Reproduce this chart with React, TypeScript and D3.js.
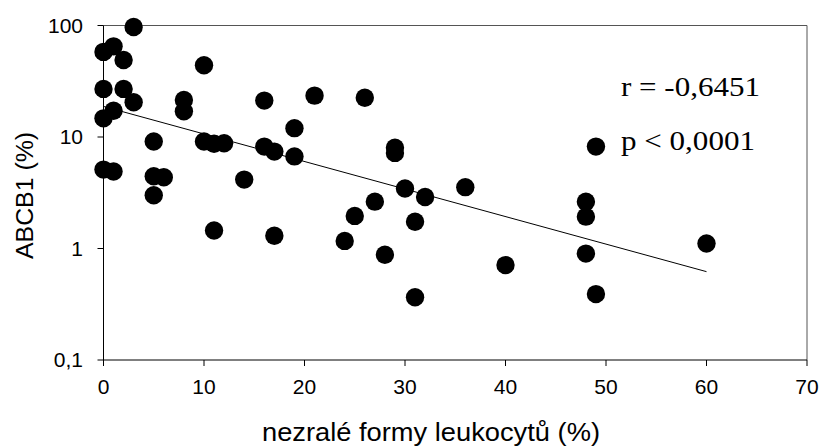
import React from "react";
import * as d3 from "d3";

const xValues = [3, 0, 1, 2, 0, 2, 3, 1, 0, 10, 8, 8, 5, 10, 11, 12, 16, 17, 19, 19, 16, 0, 1, 5, 6, 14, 5, 11, 17, 21, 26, 29, 29, 30, 32, 36, 27, 25, 24, 31, 28, 40, 31, 48, 48, 48, 49, 60, 49];
const yValues = [97, 58, 65, 49, 27, 27, 20.5, 17.2, 14.7, 44, 21.5, 17, 9.1, 9.1, 8.7, 8.8, 8.2, 7.4, 12, 6.7, 21.2, 5.1, 4.9, 4.45, 4.35, 4.15, 3.0, 1.45, 1.3, 23.5, 22.5, 8.0, 7.2, 3.45, 2.9, 3.55, 2.63, 1.96, 1.17, 1.74, 0.88, 0.71, 0.365, 2.63, 1.93, 0.9, 0.39, 1.11, 8.2];
const trendX = [0, 60];
const trendY = [18.8, 0.62];
const xTicks = [0, 10, 20, 30, 40, 50, 60, 70];
const yTicks = [0.1, 1, 10, 100];
const yTickLabels = ["0,1", "1", "10", "100"];
const statLines = ["r = -0,6451", "p < 0,0001"];
const xTitle = "nezralé formy leukocytů (%)";
const yTitle = "ABCB1 (%)";

export default function App() {
  const W = 823, H = 446;
  const left = 103.5, right = 807, top = 25.5, bottom = 360;
  const x = d3.scaleLinear().domain([0, 70]).range([left, right]);
  const y = d3.scaleLog().domain([0.1, 100]).range([bottom, top]);
  const line = d3.line<number>().x((d, i) => x(trendX[i])).y((d, i) => y(trendY[i]));
  const sans = "'Liberation Sans', Arial, sans-serif";
  const serif = "'Liberation Serif', 'Times New Roman', serif";
  return (
    <svg width={W} height={H} style={{ position: "absolute", left: 0, top: 0, background: "#fff" }}>
      <line x1={left} x2={right} y1={top} y2={top} stroke="#555" strokeWidth={1} />
      <line x1={right} x2={right} y1={top} y2={bottom} stroke="#555" strokeWidth={1} />
      <line x1={left} x2={left} y1={top} y2={bottom} stroke="#000" strokeWidth={1} />
      <line x1={left} x2={right} y1={bottom} y2={bottom} stroke="#000" strokeWidth={1} />
      {xTicks.map((t) => (
        <g key={"xt" + t}>
          <line x1={x(t)} x2={x(t)} y1={bottom} y2={bottom + 6} stroke="#000" />
          <text x={x(t)} y={394} textAnchor="middle" fontFamily={sans} fontSize={21} fill="#000">{t}</text>
        </g>
      ))}
      {yTicks.map((t, i) => (
        <g key={"yt" + t}>
          <line x1={left - 6} x2={left} y1={y(t)} y2={y(t)} stroke="#000" />
          <text x={83} y={y(t)} dy="0.35em" textAnchor="end" fontFamily={sans} fontSize={21} fill="#000">{yTickLabels[i]}</text>
        </g>
      ))}
      <path d={line(trendY) || ""} fill="none" stroke="#000" strokeWidth={1} />
      {xValues.map((xv, i) => (
        <circle key={i} cx={x(xv)} cy={y(yValues[i])} r={9.2} fill="#000" />
      ))}
      <text x={621} y={96} fontFamily={serif} fontSize={27} fill="#000" textLength={139} lengthAdjust="spacingAndGlyphs">{statLines[0]}</text>
      <text x={621} y={150} fontFamily={serif} fontSize={27} fill="#000" textLength={134} lengthAdjust="spacingAndGlyphs">{statLines[1]}</text>
      <text x={431} y={441} textAnchor="middle" fontFamily={sans} fontSize={25} fill="#000" textLength={338} lengthAdjust="spacingAndGlyphs">{xTitle}</text>
      <text transform={`translate(33,195.5) rotate(-90)`} textAnchor="middle" fontFamily={sans} fontSize={23} fill="#000" textLength={127} lengthAdjust="spacingAndGlyphs">{yTitle}</text>
    </svg>
  );
}
